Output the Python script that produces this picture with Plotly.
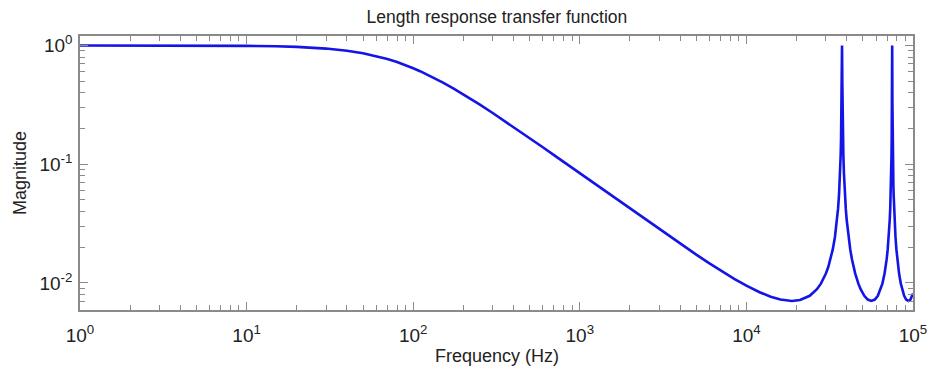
import plotly.graph_objects as go

# Frequency (Hz) and magnitude
freq = [1, 2, 3, 5, 7, 10, 15, 20, 30, 40,
        50, 60, 70, 80, 90, 100, 110, 120, 130, 150,
        175, 200, 250, 300, 350, 400, 500, 600, 700, 850,
        1000, 1200, 1500, 2000, 2500, 3000, 4000, 5000, 6000, 7000,
        8500, 10000, 12000, 14000, 16000, 18750, 21000, 24000, 26500, 28000,
        30000, 31000, 32000, 33000, 34000, 34500, 35000, 35500, 36000, 36250,
        36500, 36800, 37000, 37100, 37200, 37250, 37300, 37350, 37400, 37450,
        37475, 37500, 37525, 37550, 37600, 37650, 37700, 37750, 37800, 37900,
        38000, 38200, 38500, 38750, 39000, 39500, 40000, 40500, 41000, 42000,
        43000, 44000, 45000, 47000, 48500, 51000, 53500, 56250, 59000, 61500,
        64000, 65500, 67500, 68500, 69500, 70500, 71500, 72000, 72500, 73000,
        73500, 73750, 74000, 74300, 74500, 74600, 74700, 74750, 74800, 74850,
        74900, 74950, 74975, 75000, 75025, 75050, 75100, 75150, 75200, 75250,
        75300, 75400, 75500, 75700, 76000, 76250, 76500, 77000, 77500, 78000,
        78500, 79500, 80500, 81500, 82500, 84500, 86000, 88500, 91000, 93750,
        96500, 100000]
mag = [1.0, 0.9997, 0.9994, 0.9982, 0.9966, 0.9930, 0.9845, 0.9729, 0.9419, 0.9032,
       0.8597, 0.8142, 0.7688, 0.7248, 0.6830, 0.6439, 0.6076, 0.5741, 0.5434, 0.4893,
       0.4333, 0.3878, 0.3190, 0.2701, 0.2338, 0.2059, 0.1660, 0.1389, 0.1193, 0.09860,
       0.08395, 0.07007, 0.05616, 0.04223, 0.03389, 0.02834, 0.02143, 0.01733, 0.01463, 0.01274,
       0.010789, 0.009486, 0.008349, 0.007647, 0.007241, 0.007049, 0.007177, 0.007791, 0.008850, 0.009866,
       0.011993, 0.01361, 0.01585, 0.01915, 0.02438, 0.02834, 0.03389, 0.04223, 0.05616, 0.06729,
       0.08395, 0.1193, 0.1660, 0.2059, 0.2701, 0.3190, 0.3878, 0.4893, 0.6439, 0.8597,
       0.9586, 1.0, 0.9586, 0.8597, 0.6439, 0.4893, 0.3878, 0.3190, 0.2701, 0.2059,
       0.1660, 0.1193, 0.08395, 0.06729, 0.05616, 0.04223, 0.03389, 0.02834, 0.02438, 0.01915,
       0.01585, 0.01361, 0.011993, 0.009866, 0.008850, 0.007791, 0.007241, 0.007049, 0.007241, 0.007791,
       0.008850, 0.009866, 0.011993, 0.01361, 0.01585, 0.01915, 0.02438, 0.02834, 0.03389, 0.04223,
       0.05616, 0.06729, 0.08395, 0.1193, 0.1660, 0.2059, 0.2701, 0.3190, 0.3878, 0.4893,
       0.6439, 0.8597, 0.9586, 1.0, 0.9586, 0.8597, 0.6439, 0.4893, 0.3878, 0.3190,
       0.2701, 0.2059, 0.1660, 0.1193, 0.08395, 0.06729, 0.05616, 0.04223, 0.03389, 0.02834,
       0.02438, 0.01915, 0.01585, 0.01361, 0.011993, 0.009866, 0.008850, 0.007791, 0.007241, 0.007049,
       0.007241, 0.008140]

x_ticks = [1, 10, 100, 1000, 10000, 100000]
x_labels = ["10<sup>0</sup>", "10<sup>1</sup>", "10<sup>2</sup>",
            "10<sup>3</sup>", "10<sup>4</sup>", "10<sup>5</sup>"]
y_ticks = [0.01, 0.1, 1]
y_labels = ["10<sup>-2</sup>", "10<sup>-1</sup>", "10<sup>0</sup>"]

x_minor = [m * 10 ** e for e in range(0, 5) for m in range(2, 10)]
y_minor = [m * 10 ** e for e in (-3, -2, -1, 0) for m in range(2, 10)]

axis_col = "#8a8a8a"
font_col = "#222222"

fig = go.Figure()
fig.add_trace(go.Scatter(x=freq, y=mag, mode="lines",
                         line=dict(color="rgb(20,20,230)", width=2.6),
                         showlegend=False, hoverinfo="skip"))

fig.update_layout(
    width=934, height=369,
    margin=dict(l=80, r=21, t=36, b=59),
    paper_bgcolor="white", plot_bgcolor="white",
    font=dict(family="Liberation Sans, Arial, sans-serif", color=font_col, size=17),
    title=dict(text="Length response transfer function", x=0.532, xanchor="center",
               y=0.953, yanchor="middle", font=dict(size=17.5, color=font_col)),
    annotations=[dict(text="Frequency (Hz)", xref="paper", yref="paper",
                      x=0.5, y=-0.168, xanchor="center", yanchor="middle",
                      showarrow=False, font=dict(size=18, color=font_col))],
)
fig.update_xaxes(
    type="log", range=[0, 5], showgrid=False, zeroline=False, automargin=False,
    showline=True, linecolor=axis_col, linewidth=1.5, mirror="ticks",
    ticks="inside", ticklen=8, tickcolor=axis_col, tickwidth=1,
    tickmode="array", tickvals=x_ticks, ticktext=x_labels,
    tickfont=dict(size=19, color=font_col), ticklabelstandoff=7,
    minor=dict(tickmode="array", tickvals=x_minor, ticks="inside", ticklen=5,
               tickcolor=axis_col, showgrid=False),
)
fig.update_yaxes(
    type="log", range=[-2.228, 0.08], showgrid=False, zeroline=False,
    showline=True, linecolor=axis_col, linewidth=1.5, mirror="ticks",
    ticks="inside", ticklen=8, tickcolor=axis_col, tickwidth=1,
    tickmode="array", tickvals=y_ticks, ticktext=y_labels,
    tickfont=dict(size=19, color=font_col), ticklabelstandoff=2,
    minor=dict(tickmode="array", tickvals=y_minor, ticks="inside", ticklen=5,
               tickcolor=axis_col, showgrid=False),
    title=dict(text="Magnitude", font=dict(size=18, color=font_col), standoff=8),
)

fig.write_html("out.html")
